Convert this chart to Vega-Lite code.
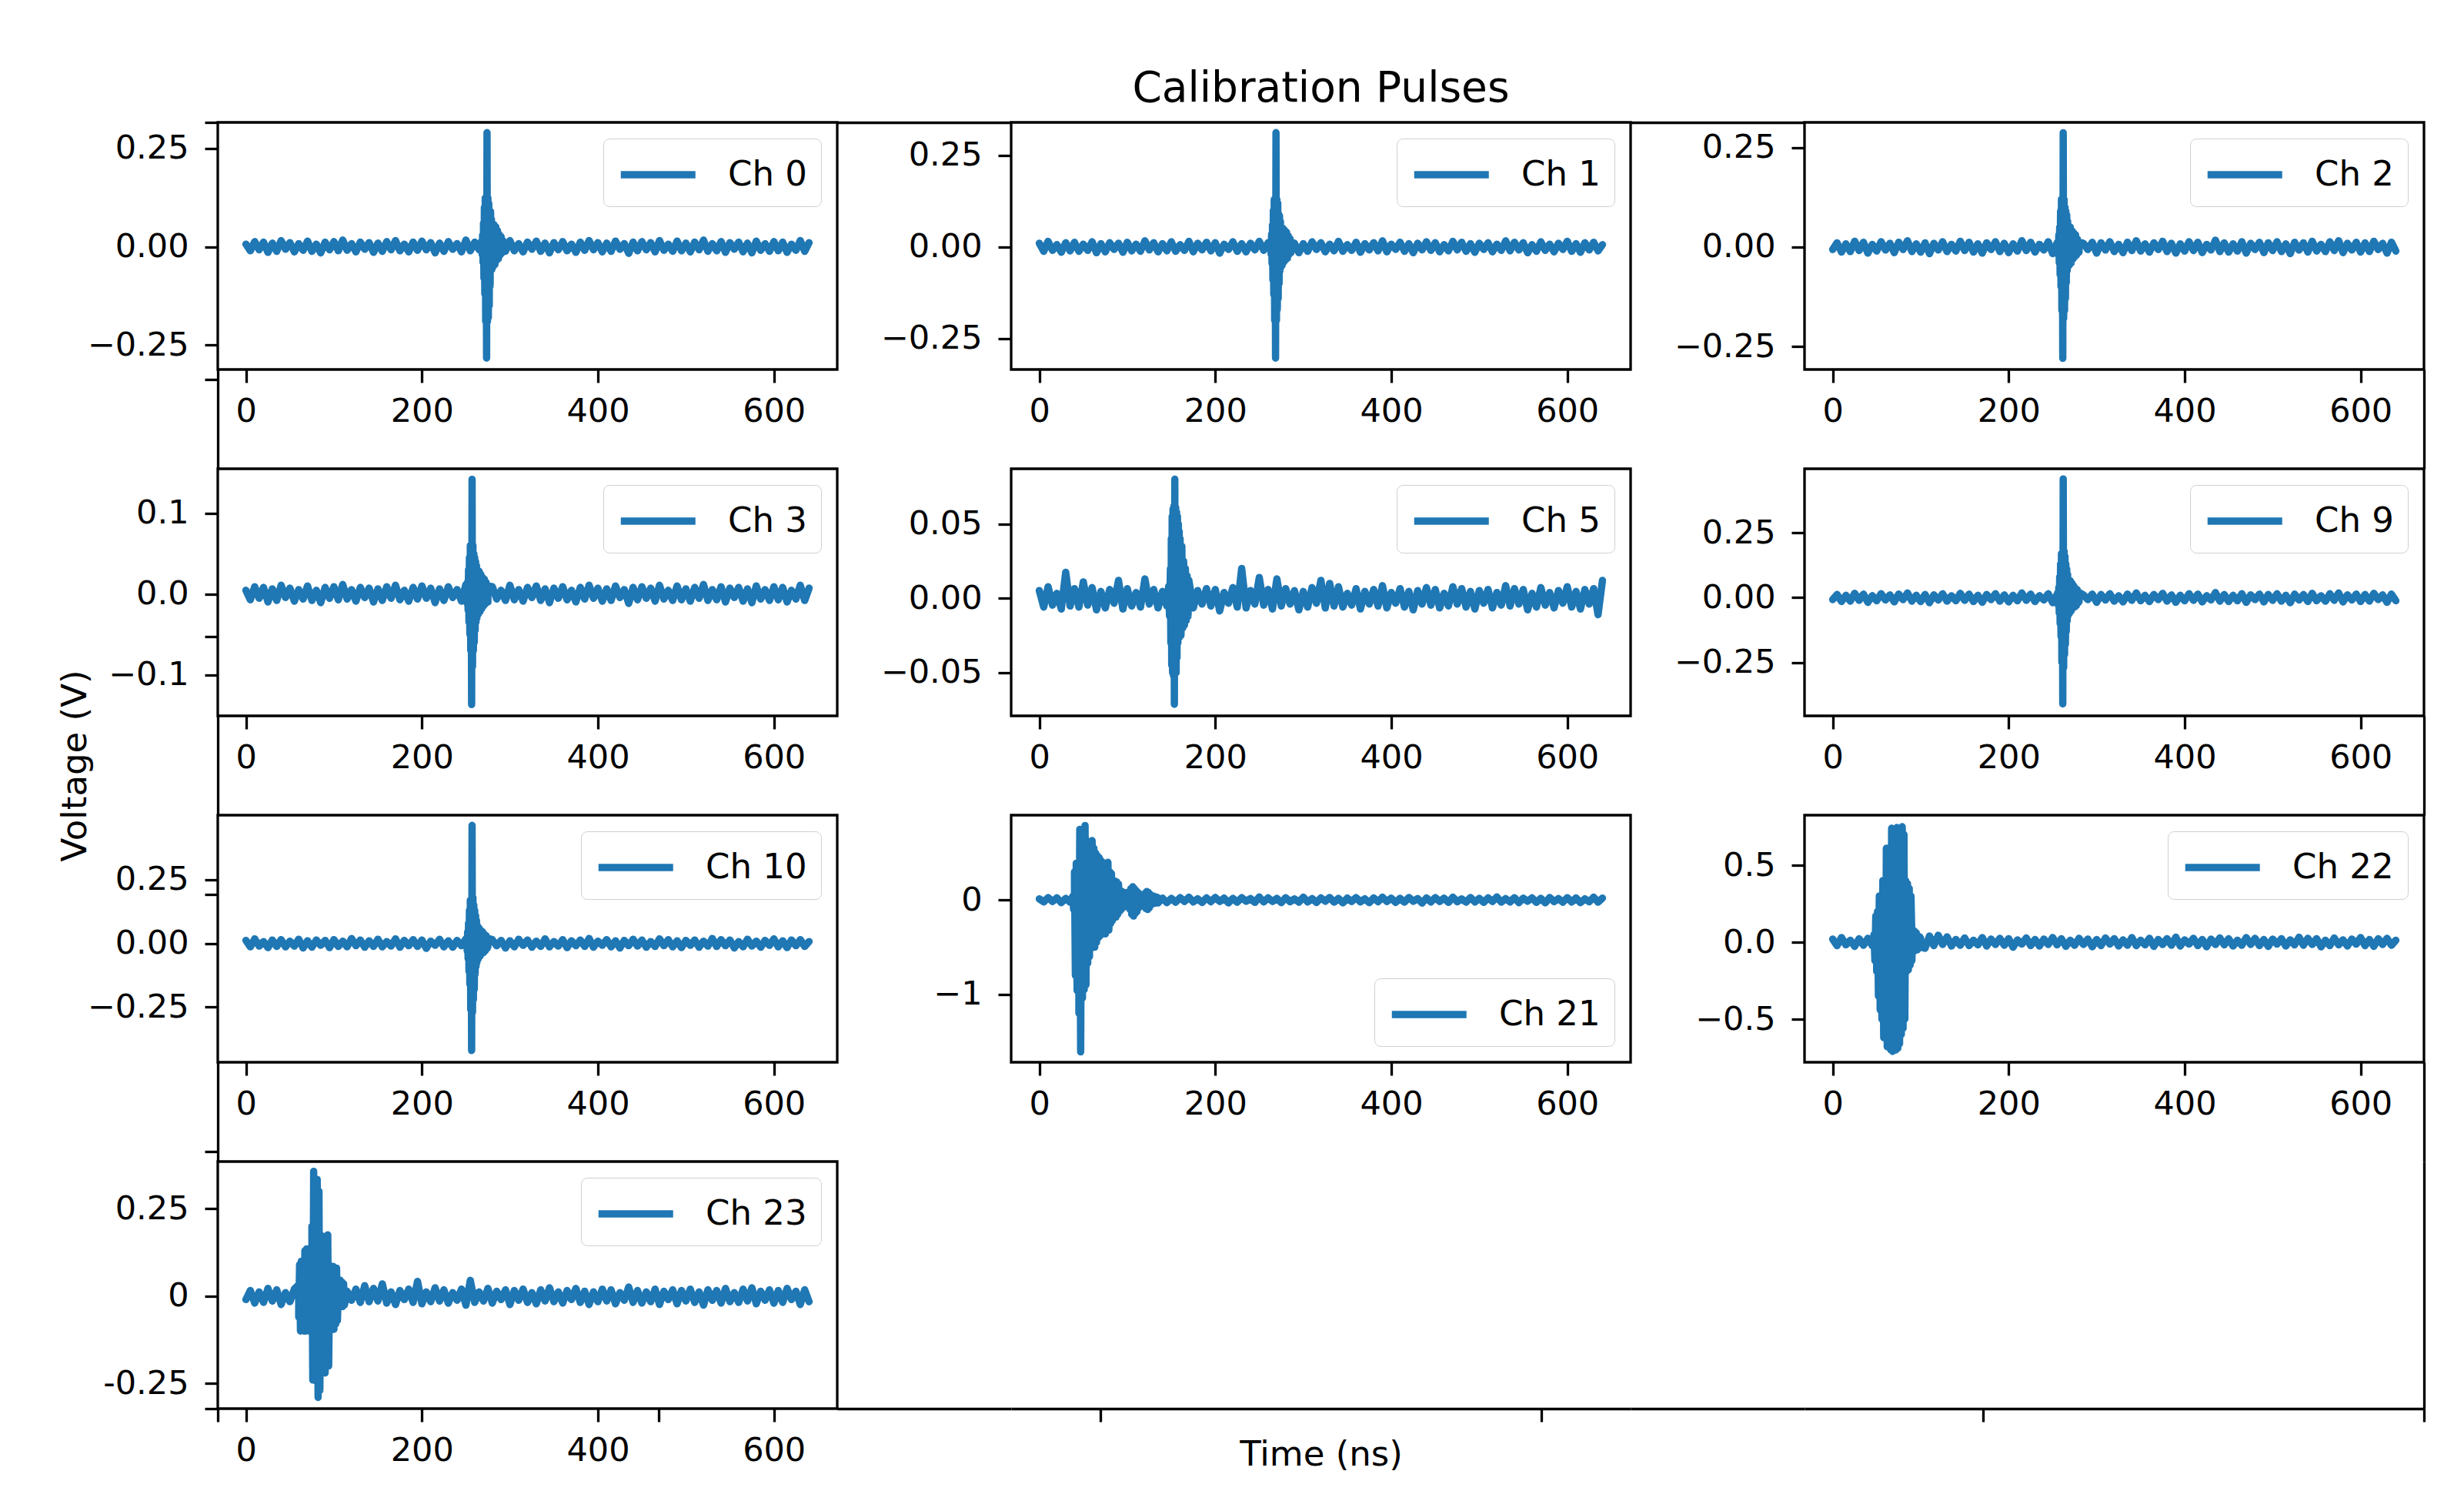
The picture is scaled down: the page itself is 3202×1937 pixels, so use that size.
{
"$schema":"https://vega.github.io/schema/vega-lite/v6.json",
"autosize":{"type":"none"},
"padding":{"left":283,"top":159,"right":2919,"bottom":1778},
"background":"white",
"config":{
"font":"DejaVu Sans",
"view":{"stroke":"black","strokeWidth":3.3},
"axis":{"domain":false,"grid":false,"ticks":true,"tickSize":17,"tickWidth":3.3,"tickColor":"black","labelFont":"DejaVu Sans","labelFontSize":43,"labelColor":"black","labelFlush":false,"labelOverlap":false,"titleFont":"DejaVu Sans","titleFontSize":45,"titleFontWeight":"normal","titleColor":"black","domainColor":"black","domainWidth":3.3},
"axisX":{"labelPadding":16},
"axisY":{"labelPadding":21},
"legend":{"offset":21,"padding":18,"labelFont":"DejaVu Sans","labelFontSize":45,"labelColor":"black","symbolType":"M-1,0H3","symbolSize":2352,"symbolStrokeWidth":7,"symbolStrokeColor":"#1f77b4","symbolFillColor":"transparent","labelOffset":86,"fillColor":"rgba(255,255,255,0.8)","strokeColor":"#d0d0d0","cornerRadius":8},
"line":{"strokeWidth":9.5,"strokeJoin":"round","strokeCap":"round"},
"title":{"font":"DejaVu Sans","fontSize":55,"fontWeight":"normal","color":"black"}
},
"data":{"name":"wave"},
"datasets":{"wave":[
{"ch":"Ch 0","t":[0,5,10,15,20,25,30,35,40,45,50,55,60,65,70,75,80,85,90,95,100,105,110,115,120,125,130,135,140,145,150,155,160,165,170,175,180,185,190,195,200,205,210,215,220,225,230,235,240,245,250,255,260,265,270,275,280,285,290,295,300,305,310,315,320,325,330,335,340,345,350,355,360,365,370,375,380,385,390,395,400,405,410,415,420,425,430,435,440,445,450,455,460,465,470,475,480,485,490,495,500,505,510,515,520,525,530,535,540,545,550,555,560,565,570,575,580,585,590,595,600,605,610,615,620,625,630,635,640],"v":[0.0065,-0.0104,0.013,-0.0078,0.0117,-0.0143,0.0091,-0.0117,0.0156,-0.0065,0.0104,-0.013,0.0078,-0.0091,0.0143,-0.0117,0.0065,-0.0156,0.0117,-0.0078,0.013,-0.0104,0.0169,-0.0091,0.0078,-0.013,0.0117,-0.0065,0.0104,-0.0143,0.0091,-0.0117,0.013,-0.0078,0.0156,-0.0104,0.0065,-0.013,0.0117,-0.0091,0.0143,-0.0078,0.0104,-0.0156,0.0091,-0.0117,0.013,-0.0065,0.0078,-0.013,0.0169,-0.0104,0.0117,-0.0078,0.0091,-0.0143,0.013,-0.0091,0.0065,-0.0117,0.0156,-0.0104,0.0078,-0.013,0.0117,-0.0065,0.0143,-0.0117,0.0091,-0.0156,0.0104,-0.0078,0.013,-0.0104,0.0065,-0.0143,0.0117,-0.0091,0.0156,-0.0078,0.0104,-0.013,0.0091,-0.0117,0.0143,-0.0065,0.0078,-0.0169,0.0117,-0.0104,0.013,-0.0078,0.0104,-0.013,0.0156,-0.0091,0.0065,-0.0117,0.0143,-0.0104,0.0091,-0.013,0.0117,-0.0078,0.0169,-0.0117,0.0078,-0.0104,0.013,-0.0143,0.0104,-0.0065,0.0117,-0.013,0.0091,-0.0156,0.0143,-0.0091,0.0078,-0.0117,0.013,-0.0104,0.0117,-0.0143,0.0065,-0.0091,0.0156,-0.0117,0.0104]},
{"ch":"Ch 0","t":[268,268.5,269,269.5,270,270.5,271,271.5,272,272.5,273,273.5,274,274.5,275,275.5,276,276.5,277,277.5,278,278.5,279,279.5,280,281,282,283,284,285,286,287,288,289,290,291,292],"v":[0.015,-0.02,0.03,-0.04,0.06,-0.08,0.1,-0.12,0.124,-0.19,0.12,-0.283,0.29,-0.19,0.124,-0.18,0.11,-0.15,0.093,-0.1,0.09,-0.06,0.07,-0.058,0.056,-0.05,0.056,-0.045,0.05,-0.035,0.04,-0.03,0.03,-0.02,0.025,-0.015,0.015]},
{"ch":"Ch 1","t":[0,5,10,15,20,25,30,35,40,45,50,55,60,65,70,75,80,85,90,95,100,105,110,115,120,125,130,135,140,145,150,155,160,165,170,175,180,185,190,195,200,205,210,215,220,225,230,235,240,245,250,255,260,265,270,275,280,285,290,295,300,305,310,315,320,325,330,335,340,345,350,355,360,365,370,375,380,385,390,395,400,405,410,415,420,425,430,435,440,445,450,455,460,465,470,475,480,485,490,495,500,505,510,515,520,525,530,535,540,545,550,555,560,565,570,575,580,585,590,595,600,605,610,615,620,625,630,635,640],"v":[0.0104,-0.0117,0.0156,-0.0091,0.0065,-0.0143,0.0117,-0.0104,0.013,-0.0117,0.0078,-0.0091,0.0143,-0.0156,0.0091,-0.013,0.0117,-0.0065,0.0104,-0.0143,0.013,-0.0104,0.0078,-0.0117,0.0169,-0.0078,0.0117,-0.013,0.0091,-0.0104,0.0143,-0.0117,0.0065,-0.0091,0.0156,-0.013,0.0104,-0.0078,0.013,-0.0104,0.0117,-0.0169,0.0078,-0.0065,0.0143,-0.0117,0.0091,-0.013,0.0104,-0.0078,0.0156,-0.0091,0.0117,-0.0143,0.0065,-0.0104,0.013,-0.0078,0.0104,-0.0156,0.0091,-0.0117,0.0143,-0.0065,0.0117,-0.013,0.0078,-0.0104,0.0156,-0.0117,0.0065,-0.0091,0.013,-0.0143,0.0091,-0.0078,0.0117,-0.0104,0.0169,-0.013,0.0078,-0.0065,0.013,-0.0117,0.0091,-0.0156,0.0104,-0.0078,0.0143,-0.0091,0.0117,-0.013,0.0065,-0.0104,0.0156,-0.0078,0.013,-0.0117,0.0091,-0.0143,0.0104,-0.0065,0.0117,-0.013,0.0078,-0.0091,0.0169,-0.0104,0.013,-0.0078,0.0117,-0.0156,0.0065,-0.0117,0.0143,-0.0091,0.0078,-0.013,0.0104,-0.0065,0.0156,-0.0117,0.0091,-0.0143,0.0117,-0.0078,0.013,-0.0104,0.0065]},
{"ch":"Ch 1","t":[263,263.5,264,264.5,265,265.5,266,266.5,267,267.5,268,268.5,269,269.5,270,270.5,271,271.5,272,272.5,273,273.5,274,274.5,275,276,277,278,279,280,281,282,283,284,285,286,287],"v":[0.015,-0.02,0.035,-0.045,0.06,-0.09,0.1,-0.13,0.13,-0.2,0.13,-0.303,0.312,-0.2,0.13,-0.17,0.12,-0.14,0.09,-0.1,0.085,-0.065,0.07,-0.055,0.05,-0.05,0.05,-0.04,0.045,-0.035,0.04,-0.03,0.03,-0.02,0.022,-0.015,0.012]},
{"ch":"Ch 2","t":[0,5,10,15,20,25,30,35,40,45,50,55,60,65,70,75,80,85,90,95,100,105,110,115,120,125,130,135,140,145,150,155,160,165,170,175,180,185,190,195,200,205,210,215,220,225,230,235,240,245,250,255,260,265,270,275,280,285,290,295,300,305,310,315,320,325,330,335,340,345,350,355,360,365,370,375,380,385,390,395,400,405,410,415,420,425,430,435,440,445,450,455,460,465,470,475,480,485,490,495,500,505,510,515,520,525,530,535,540,545,550,555,560,565,570,575,580,585,590,595,600,605,610,615,620,625,630,635,640],"v":[-0.0065,0.0104,-0.013,0.0078,-0.0117,0.0143,-0.0091,0.0117,-0.0156,0.0065,-0.0104,0.013,-0.0078,0.0091,-0.0143,0.0117,-0.0065,0.0156,-0.0117,0.0078,-0.013,0.0104,-0.0169,0.0091,-0.0078,0.013,-0.0117,0.0065,-0.0104,0.0143,-0.0091,0.0117,-0.013,0.0078,-0.0156,0.0104,-0.0065,0.013,-0.0117,0.0091,-0.0143,0.0078,-0.0104,0.0156,-0.0091,0.0117,-0.013,0.0065,-0.0078,0.013,-0.0169,0.0104,-0.0117,0.0078,-0.0091,0.0143,-0.013,0.0091,-0.0065,0.0117,-0.0156,0.0104,-0.0078,0.013,-0.0117,0.0065,-0.0143,0.0117,-0.0091,0.0156,-0.0104,0.0078,-0.013,0.0104,-0.0065,0.0143,-0.0117,0.0091,-0.0156,0.0078,-0.0104,0.013,-0.0091,0.0117,-0.0143,0.0065,-0.0078,0.0169,-0.0117,0.0104,-0.013,0.0078,-0.0104,0.013,-0.0156,0.0091,-0.0065,0.0117,-0.0143,0.0104,-0.0091,0.013,-0.0117,0.0078,-0.0169,0.0117,-0.0078,0.0104,-0.013,0.0143,-0.0104,0.0065,-0.0117,0.013,-0.0091,0.0156,-0.0143,0.0091,-0.0078,0.0117,-0.013,0.0104,-0.0117,0.0143,-0.0065,0.0091,-0.0156,0.0117,-0.0104]},
{"ch":"Ch 2","t":[256,256.5,257,257.5,258,258.5,259,259.5,260,260.5,261,261.5,262,262.5,263,263.5,264,264.5,265,265.5,266,266.5,267,267.5,268,269,270,271,272,273,274,275,276,277,278,279,280],"v":[0.012,-0.02,0.03,-0.04,0.05,-0.07,0.09,-0.1,0.12,-0.16,0.11,-0.28,0.287,-0.18,0.12,-0.16,0.1,-0.13,0.09,-0.09,0.08,-0.06,0.065,-0.05,0.05,-0.045,0.05,-0.04,0.04,-0.03,0.035,-0.025,0.03,-0.02,0.02,-0.015,0.012]},
{"ch":"Ch 3","t":[0,5,10,15,20,25,30,35,40,45,50,55,60,65,70,75,80,85,90,95,100,105,110,115,120,125,130,135,140,145,150,155,160,165,170,175,180,185,190,195,200,205,210,215,220,225,230,235,240,245,250,255,260,265,270,275,280,285,290,295,300,305,310,315,320,325,330,335,340,345,350,355,360,365,370,375,380,385,390,395,400,405,410,415,420,425,430,435,440,445,450,455,460,465,470,475,480,485,490,495,500,505,510,515,520,525,530,535,540,545,550,555,560,565,570,575,580,585,590,595,600,605,610,615,620,625,630,635,640],"v":[0.0045,-0.0072,0.009,-0.0054,0.0081,-0.0099,0.0063,-0.0081,0.0108,-0.0045,0.0072,-0.009,0.0054,-0.0063,0.0099,-0.0081,0.0045,-0.0108,0.0081,-0.0054,0.009,-0.0072,0.0117,-0.0063,0.0054,-0.009,0.0081,-0.0045,0.0072,-0.0099,0.0063,-0.0081,0.009,-0.0054,0.0108,-0.0072,0.0045,-0.009,0.0081,-0.0063,0.0099,-0.0054,0.0072,-0.0108,0.0063,-0.0081,0.009,-0.0045,0.0054,-0.009,0.0117,-0.0072,0.0081,-0.0054,0.0063,-0.0099,0.009,-0.0063,0.0045,-0.0081,0.0108,-0.0072,0.0054,-0.009,0.0081,-0.0045,0.0099,-0.0081,0.0063,-0.0108,0.0072,-0.0054,0.009,-0.0072,0.0045,-0.0099,0.0081,-0.0063,0.0108,-0.0054,0.0072,-0.009,0.0063,-0.0081,0.0099,-0.0045,0.0054,-0.0117,0.0081,-0.0072,0.009,-0.0054,0.0072,-0.009,0.0108,-0.0063,0.0045,-0.0081,0.0099,-0.0072,0.0063,-0.009,0.0081,-0.0054,0.0117,-0.0081,0.0054,-0.0072,0.009,-0.0099,0.0072,-0.0045,0.0081,-0.009,0.0063,-0.0108,0.0099,-0.0063,0.0054,-0.0081,0.009,-0.0072,0.0081,-0.0099,0.0045,-0.0063,0.0108,-0.0081,0.0072]},
{"ch":"Ch 3","t":[251,251.5,252,252.5,253,253.5,254,254.5,255,255.5,256,256.5,257,257.5,258,258.5,259,259.5,260,260.5,261,261.5,262,262.5,263,264,265,266,267,268,269,270,271,272,273,274,275],"v":[0.01,-0.012,0.015,-0.02,0.03,-0.035,0.045,-0.05,0.06,-0.07,0.05,-0.137,0.142,-0.09,0.06,-0.07,0.05,-0.06,0.045,-0.045,0.04,-0.035,0.035,-0.03,0.03,-0.025,0.028,-0.022,0.024,-0.018,0.02,-0.015,0.018,-0.012,0.014,-0.01,0.01]},
{"ch":"Ch 5","t":[0,5,10,15,20,25,30,35,40,45,50,55,60,65,70,75,80,85,90,95,100,105,110,115,120,125,130,135,140,145,150,155,160,165,170,175,180,185,190,195,200,205,210,215,220,225,230,235,240,245,250,255,260,265,270,275,280,285,290,295,300,305,310,315,320,325,330,335,340,345,350,355,360,365,370,375,380,385,390,395,400,405,410,415,420,425,430,435,440,445,450,455,460,465,470,475,480,485,490,495,500,505,510,515,520,525,530,535,540,545,550,555,560,565,570,575,580,585,590,595,600,605,610,615,620,625,630,635,640],"v":[0.0052,-0.0059,0.0078,-0.0046,0.0033,-0.0072,0.0175,-0.0052,0.0065,-0.0059,0.011,-0.0046,0.0072,-0.0078,0.0046,-0.0065,0.0059,-0.0033,0.012,-0.0072,0.0065,-0.0052,0.0039,-0.0059,0.013,-0.0039,0.0059,-0.0065,0.0046,-0.0052,0.0072,-0.0059,0.0033,-0.0046,0.0078,-0.0065,0.0052,-0.0039,0.0065,-0.0052,0.0059,-0.0085,0.0039,-0.0033,0.0072,-0.0059,0.02,-0.0065,0.0052,-0.0039,0.014,-0.0046,0.0059,-0.0072,0.013,-0.0052,0.0065,-0.0039,0.0052,-0.0078,0.0046,-0.0059,0.0072,-0.0033,0.012,-0.0065,0.01,-0.0052,0.0078,-0.0059,0.0033,-0.0046,0.0065,-0.0072,0.0046,-0.0039,0.0059,-0.0052,0.0085,-0.0065,0.0039,-0.0033,0.0065,-0.0059,0.0046,-0.0078,0.0052,-0.0039,0.0072,-0.0046,0.0059,-0.0065,0.0033,-0.0052,0.0078,-0.0039,0.0065,-0.0059,0.0046,-0.0072,0.0052,-0.0033,0.0059,-0.0065,0.0039,-0.0046,0.0085,-0.0052,0.0065,-0.0039,0.0059,-0.0078,0.0033,-0.0059,0.0072,-0.0046,0.0039,-0.0065,0.0052,-0.0033,0.0078,-0.0059,0.0046,-0.0072,0.0059,-0.0039,0.0065,-0.011,0.012]},
{"ch":"Ch 5","t":[147,148,149,149.5,150,150.5,151,151.5,152,152.5,153,153.5,154,154.5,155,155.5,156,156.5,157,157.5,158,158.5,159,159.5,160,161,162,163,164,165,166,167,168,169,170],"v":[0.008,-0.012,0.02,-0.03,0.04,-0.045,0.055,-0.05,0.06,-0.052,0.062,-0.0712,0.08,-0.05,0.061,-0.05,0.058,-0.04,0.055,-0.03,0.05,-0.026,0.045,-0.026,0.04,-0.025,0.035,-0.02,0.025,-0.018,0.02,-0.015,0.015,-0.012,0.012]},
{"ch":"Ch 9","t":[0,5,10,15,20,25,30,35,40,45,50,55,60,65,70,75,80,85,90,95,100,105,110,115,120,125,130,135,140,145,150,155,160,165,170,175,180,185,190,195,200,205,210,215,220,225,230,235,240,245,250,255,260,265,270,275,280,285,290,295,300,305,310,315,320,325,330,335,340,345,350,355,360,365,370,375,380,385,390,395,400,405,410,415,420,425,430,435,440,445,450,455,460,465,470,475,480,485,490,495,500,505,510,515,520,525,530,535,540,545,550,555,560,565,570,575,580,585,590,595,600,605,610,615,620,625,630,635,640],"v":[-0.0075,0.012,-0.015,0.009,-0.0135,0.0165,-0.0105,0.0135,-0.018,0.0075,-0.012,0.015,-0.009,0.0105,-0.0165,0.0135,-0.0075,0.018,-0.0135,0.009,-0.015,0.012,-0.0195,0.0105,-0.009,0.015,-0.0135,0.0075,-0.012,0.0165,-0.0105,0.0135,-0.015,0.009,-0.018,0.012,-0.0075,0.015,-0.0135,0.0105,-0.0165,0.009,-0.012,0.018,-0.0105,0.0135,-0.015,0.0075,-0.009,0.015,-0.0195,0.012,-0.0135,0.009,-0.0105,0.0165,-0.015,0.0105,-0.0075,0.0135,-0.018,0.012,-0.009,0.015,-0.0135,0.0075,-0.0165,0.0135,-0.0105,0.018,-0.012,0.009,-0.015,0.012,-0.0075,0.0165,-0.0135,0.0105,-0.018,0.009,-0.012,0.015,-0.0105,0.0135,-0.0165,0.0075,-0.009,0.0195,-0.0135,0.012,-0.015,0.009,-0.012,0.015,-0.018,0.0105,-0.0075,0.0135,-0.0165,0.012,-0.0105,0.015,-0.0135,0.009,-0.0195,0.0135,-0.009,0.012,-0.015,0.0165,-0.012,0.0075,-0.0135,0.015,-0.0105,0.018,-0.0165,0.0105,-0.009,0.0135,-0.015,0.012,-0.0135,0.0165,-0.0075,0.0105,-0.018,0.0135,-0.012]},
{"ch":"Ch 9","t":[256,256.5,257,257.5,258,258.5,259,259.5,260,260.5,261,261.5,262,262.5,263,263.5,264,264.5,265,265.5,266,266.5,267,267.5,268,269,270,271,272,273,274,275,276,277,278,279,280],"v":[0.02,-0.03,0.04,-0.06,0.08,-0.1,0.13,-0.15,0.17,-0.25,0.17,-0.41,0.458,-0.27,0.18,-0.22,0.16,-0.18,0.13,-0.13,0.11,-0.09,0.09,-0.07,0.07,-0.06,0.065,-0.05,0.055,-0.04,0.045,-0.035,0.035,-0.03,0.03,-0.02,0.02]},
{"ch":"Ch 10","t":[0,5,10,15,20,25,30,35,40,45,50,55,60,65,70,75,80,85,90,95,100,105,110,115,120,125,130,135,140,145,150,155,160,165,170,175,180,185,190,195,200,205,210,215,220,225,230,235,240,245,250,255,260,265,270,275,280,285,290,295,300,305,310,315,320,325,330,335,340,345,350,355,360,365,370,375,380,385,390,395,400,405,410,415,420,425,430,435,440,445,450,455,460,465,470,475,480,485,490,495,500,505,510,515,520,525,530,535,540,545,550,555,560,565,570,575,580,585,590,595,600,605,610,615,620,625,630,635,640],"v":[0.012,-0.0135,0.018,-0.0105,0.0075,-0.0165,0.0135,-0.012,0.015,-0.0135,0.009,-0.0105,0.0165,-0.018,0.0105,-0.015,0.0135,-0.0075,0.012,-0.0165,0.015,-0.012,0.009,-0.0135,0.0195,-0.009,0.0135,-0.015,0.0105,-0.012,0.0165,-0.0135,0.0075,-0.0105,0.018,-0.015,0.012,-0.009,0.015,-0.012,0.0135,-0.0195,0.009,-0.0075,0.0165,-0.0135,0.0105,-0.015,0.012,-0.009,0.018,-0.0105,0.0135,-0.0165,0.0075,-0.012,0.015,-0.009,0.012,-0.018,0.0105,-0.0135,0.0165,-0.0075,0.0135,-0.015,0.009,-0.012,0.018,-0.0135,0.0075,-0.0105,0.015,-0.0165,0.0105,-0.009,0.0135,-0.012,0.0195,-0.015,0.009,-0.0075,0.015,-0.0135,0.0105,-0.018,0.012,-0.009,0.0165,-0.0105,0.0135,-0.015,0.0075,-0.012,0.018,-0.009,0.015,-0.0135,0.0105,-0.0165,0.012,-0.0075,0.0135,-0.015,0.009,-0.0105,0.0195,-0.012,0.015,-0.009,0.0135,-0.018,0.0075,-0.0135,0.0165,-0.0105,0.009,-0.015,0.012,-0.0075,0.018,-0.0135,0.0105,-0.0165,0.0135,-0.009,0.015,-0.012,0.0075]},
{"ch":"Ch 10","t":[251,251.5,252,252.5,253,253.5,254,254.5,255,255.5,256,256.5,257,257.5,258,258.5,259,259.5,260,260.5,261,261.5,262,262.5,263,264,265,266,267,268,269,270,271,272,273,274,275],"v":[0.02,-0.03,0.045,-0.06,0.08,-0.11,0.13,-0.16,0.17,-0.26,0.17,-0.42,0.463,-0.27,0.18,-0.22,0.15,-0.18,0.13,-0.12,0.11,-0.09,0.09,-0.075,0.07,-0.06,0.06,-0.05,0.05,-0.04,0.045,-0.035,0.035,-0.028,0.03,-0.02,0.02]},
{"ch":"Ch 21","t":[0,5,10,15,20,25,30,35,40,45,50,55,60,65,70,75,80,85,90,95,100,105,110,115,120,125,130,135,140,145,150,155,160,165,170,175,180,185,190,195,200,205,210,215,220,225,230,235,240,245,250,255,260,265,270,275,280,285,290,295,300,305,310,315,320,325,330,335,340,345,350,355,360,365,370,375,380,385,390,395,400,405,410,415,420,425,430,435,440,445,450,455,460,465,470,475,480,485,490,495,500,505,510,515,520,525,530,535,540,545,550,555,560,565,570,575,580,585,590,595,600,605,610,615,620,625,630,635,640],"v":[0.0125,-0.02,0.025,-0.015,0.0225,-0.0275,0.0175,-0.0225,0.03,-0.0125,0.02,-0.025,0.015,-0.0175,0.0275,-0.0225,0.0125,-0.03,0.0225,-0.015,0.025,-0.02,0.0325,-0.0175,0.015,-0.025,0.0225,-0.0125,0.02,-0.0275,0.0175,-0.0225,0.025,-0.015,0.03,-0.02,0.0125,-0.025,0.0225,-0.0175,0.0275,-0.015,0.02,-0.03,0.0175,-0.0225,0.025,-0.0125,0.015,-0.025,0.0325,-0.02,0.0225,-0.015,0.0175,-0.0275,0.025,-0.0175,0.0125,-0.0225,0.03,-0.02,0.015,-0.025,0.0225,-0.0125,0.0275,-0.0225,0.0175,-0.03,0.02,-0.015,0.025,-0.02,0.0125,-0.0275,0.0225,-0.0175,0.03,-0.015,0.02,-0.025,0.0175,-0.0225,0.0275,-0.0125,0.015,-0.0325,0.0225,-0.02,0.025,-0.015,0.02,-0.025,0.03,-0.0175,0.0125,-0.0225,0.0275,-0.02,0.0175,-0.025,0.0225,-0.015,0.0325,-0.0225,0.015,-0.02,0.025,-0.0275,0.02,-0.0125,0.0225,-0.025,0.0175,-0.03,0.0275,-0.0175,0.015,-0.0225,0.025,-0.02,0.0225,-0.0275,0.0125,-0.0175,0.03,-0.0225,0.02]},
{"ch":"Ch 21","t":[38,39,40,41,42,43,44,45,46,47,48,49,50,51,52,53,54,55,56,57,58,59,60,61,62,63,64,65,66,67,68,69,70,71,72,73,74,75,76,77,78,79,80,81,82,83,84,85,86,87,88,89,90,91,92,93,94,95,96,97,98,99,100,101,102,103,104,105,106,107,108,109,110,111,112,113,114,115,116,117,118,119,120,121,122,123,124,125,126,127,128,129,130,131,132,133,134,135],"v":[0.04,-0.1,0.3,-0.8,0.39,-0.96,0.35,-1.2,0.75,-1.61,0.6,-1.04,0.7,-0.95,0.79,-0.9,0.63,-0.67,0.6,-0.6,0.55,-0.51,0.63,-0.48,0.55,-0.5,0.5,-0.45,0.47,-0.4,0.45,-0.38,0.42,-0.36,0.4,-0.33,0.38,-0.36,0.35,-0.3,0.4,-0.32,0.3,-0.25,0.28,-0.22,0.21,-0.19,0.2,-0.18,0.19,-0.15,0.17,-0.12,0.1,-0.1,0.09,-0.08,0.08,-0.07,0.07,-0.06,0.08,-0.07,0.09,-0.1,0.12,-0.15,0.14,-0.17,0.12,-0.14,0.1,-0.12,0.08,-0.08,0.06,-0.06,0.05,-0.05,0.06,-0.05,0.07,-0.09,0.09,-0.1,0.08,-0.08,0.06,-0.05,0.04,-0.04,0.04,-0.035,0.03,-0.03,0.03,-0.03]},
{"ch":"Ch 22","t":[0,5,10,15,20,25,30,35,40,45,50,55,60,65,70,75,80,85,90,95,100,105,110,115,120,125,130,135,140,145,150,155,160,165,170,175,180,185,190,195,200,205,210,215,220,225,230,235,240,245,250,255,260,265,270,275,280,285,290,295,300,305,310,315,320,325,330,335,340,345,350,355,360,365,370,375,380,385,390,395,400,405,410,415,420,425,430,435,440,445,450,455,460,465,470,475,480,485,490,495,500,505,510,515,520,525,530,535,540,545,550,555,560,565,570,575,580,585,590,595,600,605,610,615,620,625,630,635,640],"v":[0.02,-0.0225,0.03,-0.0175,0.0125,-0.0275,0.0225,-0.02,0.025,-0.0225,0.015,-0.0175,0.0275,-0.03,0.0175,-0.025,0.0225,-0.0125,0.02,-0.0275,0.025,-0.04,0.04,-0.0225,0.045,-0.015,0.035,-0.025,0.0175,-0.02,0.0275,-0.0225,0.0125,-0.0175,0.03,-0.025,0.02,-0.015,0.025,-0.02,0.0225,-0.0325,0.015,-0.0125,0.0275,-0.0225,0.0175,-0.025,0.02,-0.015,0.03,-0.0175,0.0225,-0.0275,0.0125,-0.02,0.025,-0.015,0.02,-0.03,0.0175,-0.0225,0.0275,-0.0125,0.0225,-0.025,0.015,-0.02,0.03,-0.0225,0.0125,-0.0175,0.025,-0.0275,0.0175,-0.015,0.0225,-0.02,0.0325,-0.025,0.015,-0.0125,0.025,-0.0225,0.0175,-0.03,0.02,-0.015,0.0275,-0.0175,0.0225,-0.025,0.0125,-0.02,0.03,-0.015,0.025,-0.0225,0.0175,-0.0275,0.02,-0.0125,0.0225,-0.025,0.015,-0.0175,0.0325,-0.02,0.025,-0.015,0.0225,-0.03,0.0125,-0.0225,0.0275,-0.0175,0.015,-0.025,0.02,-0.0125,0.03,-0.0225,0.0175,-0.0275,0.0225,-0.015,0.025,-0.02,0.0125]},
{"ch":"Ch 22","t":[47,48,49,50,51,52,53,54,55,56,57,58,59,60,61,62,63,64,65,66,67,68,69,70,71,72,73,74,75,76,77,78,79,80,81,82,83,84,85,86,87,88,89,90,91,92,93,94,95,96,97,98,99,100],"v":[0.05,-0.12,0.17,-0.19,0.2,-0.35,0.3,-0.44,0.28,-0.5,0.4,-0.62,0.38,-0.6,0.61,-0.68,0.55,-0.65,0.6,-0.7,0.74,-0.71,0.7,-0.68,0.72,-0.7,0.745,-0.69,0.72,-0.66,0.7,-0.6,0.75,-0.56,0.7,-0.5,0.4,-0.19,0.38,-0.18,0.35,-0.15,0.3,-0.12,0.08,-0.06,0.07,-0.05,0.06,-0.05,0.04,-0.04,0.035,-0.03]},
{"ch":"Ch 23","t":[0,5,10,15,20,25,30,35,40,45,50,55,60,65,70,75,80,85,90,95,100,105,110,115,120,125,130,135,140,145,150,155,160,165,170,175,180,185,190,195,200,205,210,215,220,225,230,235,240,245,250,255,260,265,270,275,280,285,290,295,300,305,310,315,320,325,330,335,340,345,350,355,360,365,370,375,380,385,390,395,400,405,410,415,420,425,430,435,440,445,450,455,460,465,470,475,480,485,490,495,500,505,510,515,520,525,530,535,540,545,550,555,560,565,570,575,580,585,590,595,600,605,610,615,620,625,630,635,640],"v":[-0.01,0.016,-0.02,0.012,-0.018,0.022,-0.014,0.018,-0.024,0.01,-0.016,0.02,-0.012,0.014,-0.022,0.018,-0.01,0.024,-0.018,0.012,-0.02,0.016,-0.026,0.014,-0.012,0.02,-0.018,0.03,-0.016,0.022,-0.014,0.035,-0.02,0.012,-0.024,0.016,-0.01,0.02,-0.018,0.042,-0.022,0.012,-0.016,0.024,-0.014,0.018,-0.02,0.01,-0.012,0.02,-0.026,0.045,-0.018,0.012,-0.014,0.022,-0.02,0.014,-0.01,0.018,-0.024,0.016,-0.012,0.02,-0.018,0.01,-0.022,0.018,-0.014,0.024,-0.016,0.012,-0.02,0.016,-0.01,0.022,-0.018,0.014,-0.024,0.012,-0.016,0.02,-0.014,0.018,-0.022,0.01,-0.012,0.026,-0.018,0.016,-0.02,0.012,-0.016,0.02,-0.024,0.014,-0.01,0.018,-0.022,0.016,-0.014,0.02,-0.018,0.012,-0.026,0.018,-0.012,0.016,-0.02,0.022,-0.016,0.01,-0.018,0.02,-0.014,0.024,-0.022,0.014,-0.012,0.018,-0.02,0.016,-0.018,0.022,-0.01,0.014,-0.024,0.018,-0.016]},
{"ch":"Ch 23","t":[59,60,61,62,63,64,65,66,67,68,69,70,71,72,73,74,75,76,77,78,79,80,81,82,83,84,85,86,87,88,89,90,91,92,93,94,95,96,97,98,99,100,101,102,103,104,105,106,107,108,109,110,111,112],"v":[0.03,-0.06,0.09,-0.1,0.1,-0.09,0.1,-0.1,0.13,-0.1,0.135,-0.09,0.12,-0.1,0.13,-0.08,0.2,-0.24,0.357,-0.2,0.3,-0.244,0.334,-0.29,0.3,-0.27,0.175,-0.22,0.16,-0.2,0.17,-0.22,0.15,-0.18,0.175,-0.2,0.088,-0.098,0.08,-0.09,0.085,-0.095,0.07,-0.08,0.08,-0.07,0.048,-0.03,0.045,-0.03,0.04,-0.03,0.035,-0.025]}
]},
"columns":5,
"spacing":0,
"bounds":"flush",
"align":"each",
"resolve":{"scale":{"color":"independent"},"legend":{"color":"independent"}},
"concat":[
{"width":805,"height":321,"transform":[{"filter":"datum.ch === 'Ch 0'"},{"flatten":["t","v"]}],"mark":{"type":"line"},
"encoding":{"x":{"field":"t","type":"quantitative","title":null,"scale":{"domain":[-32,672],"nice":false,"zero":false},"axis":{"values":[0,200,400,600],"format":"d"}},
"y":{"field":"v","type":"quantitative","title":null,"scale":{"domain":[-0.312,0.316],"nice":false,"zero":false},"axis":{"values":[-0.25,0,0.25,0.316],"format":".2f","labelExpr":"datum.value > 0.3 ? '' : datum.label"}},
"color":{"field":"ch","type":"nominal","title":null,"scale":{"range":["#1f77b4"]},"legend":{"orient":"top-right"}}}},
{"width":226,"height":321,"view":{"stroke":null},"data":{"values":[{"g":0.5}]},"mark":{"type":"point","opacity":0},
"encoding":{"x":{"field":"g","type":"quantitative","scale":{"domain":[0,1]},"axis":{"orient":"top","domain":true,"ticks":false,"labels":false,"title":null}}}},
{"width":805,"height":321,"title":{"text":"Calibration Pulses","anchor":"middle","frame":"group","offset":15},"transform":[{"filter":"datum.ch === 'Ch 1'"},{"flatten":["t","v"]}],"mark":{"type":"line"},
"encoding":{"x":{"field":"t","type":"quantitative","title":null,"scale":{"domain":[-32,672],"nice":false,"zero":false},"axis":{"values":[0,200,400,600],"format":"d"}},
"y":{"field":"v","type":"quantitative","title":null,"scale":{"domain":[-0.334,0.34],"nice":false,"zero":false},"axis":{"values":[-0.25,0,0.25],"format":".2f"}},
"color":{"field":"ch","type":"nominal","title":null,"scale":{"range":["#1f77b4"]},"legend":{"orient":"top-right"}}}},
{"width":226,"height":321,"view":{"stroke":null},"data":{"values":[{"g":0.5}]},"mark":{"type":"point","opacity":0},
"encoding":{"x":{"field":"g","type":"quantitative","scale":{"domain":[0,1]},"axis":{"orient":"top","domain":true,"ticks":false,"labels":false,"title":null}}}},
{"width":805,"height":321,"transform":[{"filter":"datum.ch === 'Ch 2'"},{"flatten":["t","v"]}],"mark":{"type":"line"},
"encoding":{"x":{"field":"t","type":"quantitative","title":null,"scale":{"domain":[-32,672],"nice":false,"zero":false},"axis":{"values":[0,200,400,600],"format":"d"}},
"y":{"field":"v","type":"quantitative","title":null,"scale":{"domain":[-0.308,0.313],"nice":false,"zero":false},"axis":{"values":[-0.25,0,0.25],"format":".2f"}},
"color":{"field":"ch","type":"nominal","title":null,"scale":{"range":["#1f77b4"]},"legend":{"orient":"top-right"}}}},

{"width":805,"height":129,"view":{"stroke":null},"data":{"values":[{"g":0.77}]},"mark":{"type":"point","opacity":0},
"encoding":{"y":{"field":"g","type":"quantitative","scale":{"domain":[0.7307,0.8079],"nice":false,"zero":false},"axis":{"orient":"left","values":[0.8],"labels":false,"domain":true,"title":null}}}},
{"width":226,"height":129,"view":{"stroke":null},"data":{"values":[{"g":0}]},"mark":{"type":"point","opacity":0},"encoding":{}},
{"width":805,"height":129,"view":{"stroke":null},"data":{"values":[{"g":0}]},"mark":{"type":"point","opacity":0},"encoding":{}},
{"width":226,"height":129,"view":{"stroke":null},"data":{"values":[{"g":0}]},"mark":{"type":"point","opacity":0},"encoding":{}},
{"width":805,"height":129,"view":{"stroke":null},"data":{"values":[{"g":0.77}]},"mark":{"type":"point","opacity":0},
"encoding":{"y":{"field":"g","type":"quantitative","scale":{"domain":[0.7307,0.8079],"nice":false,"zero":false},"axis":{"orient":"right","ticks":false,"labels":false,"domain":true,"title":null}}}},

{"width":805,"height":321,"transform":[{"filter":"datum.ch === 'Ch 3'"},{"flatten":["t","v"]}],"mark":{"type":"line"},
"encoding":{"x":{"field":"t","type":"quantitative","title":null,"scale":{"domain":[-32,672],"nice":false,"zero":false},"axis":{"values":[0,200,400,600],"format":"d"}},
"y":{"field":"v","type":"quantitative","title":null,"scale":{"domain":[-0.151,0.155],"nice":false,"zero":false},"axis":{"values":[-0.1,-0.0532,0,0.1],"format":".1f","labelExpr":"datum.value == -0.0532 ? '' : datum.label"}},
"color":{"field":"ch","type":"nominal","title":null,"scale":{"range":["#1f77b4"]},"legend":{"orient":"top-right"}}}},
{"width":226,"height":321,"view":{"stroke":null},"data":{"values":[{"g":0}]},"mark":{"type":"point","opacity":0},"encoding":{}},
{"width":805,"height":321,"transform":[{"filter":"datum.ch === 'Ch 5'"},{"flatten":["t","v"]}],"mark":{"type":"line"},
"encoding":{"x":{"field":"t","type":"quantitative","title":null,"scale":{"domain":[-32,672],"nice":false,"zero":false},"axis":{"values":[0,200,400,600],"format":"d"}},
"y":{"field":"v","type":"quantitative","title":null,"scale":{"domain":[-0.079,0.087],"nice":false,"zero":false},"axis":{"values":[-0.05,0,0.05],"format":".2f"}},
"color":{"field":"ch","type":"nominal","title":null,"scale":{"range":["#1f77b4"]},"legend":{"orient":"top-right"}}}},
{"width":226,"height":321,"view":{"stroke":null},"data":{"values":[{"g":0}]},"mark":{"type":"point","opacity":0},"encoding":{}},
{"width":805,"height":321,"transform":[{"filter":"datum.ch === 'Ch 9'"},{"flatten":["t","v"]}],"mark":{"type":"line"},
"encoding":{"x":{"field":"t","type":"quantitative","title":null,"scale":{"domain":[-32,672],"nice":false,"zero":false},"axis":{"values":[0,200,400,600],"format":"d"}},
"y":{"field":"v","type":"quantitative","title":null,"scale":{"domain":[-0.456,0.497],"nice":false,"zero":false},"axis":{"values":[-0.25,0,0.25],"format":".2f"}},
"color":{"field":"ch","type":"nominal","title":null,"scale":{"range":["#1f77b4"]},"legend":{"orient":"top-right"}}}},

{"width":805,"height":129,"view":{"stroke":null},"data":{"values":[{"g":0.5}]},"mark":{"type":"point","opacity":0},
"encoding":{"y":{"field":"g","type":"quantitative","scale":{"domain":[0.4614,0.5386],"nice":false,"zero":false},"axis":{"orient":"left","ticks":false,"labels":false,"domain":true,"title":"Voltage (V)","titlePadding":163}}}},
{"width":226,"height":129,"view":{"stroke":null},"data":{"values":[{"g":0}]},"mark":{"type":"point","opacity":0},"encoding":{}},
{"width":805,"height":129,"view":{"stroke":null},"data":{"values":[{"g":0}]},"mark":{"type":"point","opacity":0},"encoding":{}},
{"width":226,"height":129,"view":{"stroke":null},"data":{"values":[{"g":0}]},"mark":{"type":"point","opacity":0},"encoding":{}},
{"width":805,"height":129,"view":{"stroke":null},"data":{"values":[{"g":0.5}]},"mark":{"type":"point","opacity":0},
"encoding":{"y":{"field":"g","type":"quantitative","scale":{"domain":[0.4614,0.5386],"nice":false,"zero":false},"axis":{"orient":"right","ticks":false,"labels":false,"domain":true,"title":null}}}},

{"width":805,"height":321,"transform":[{"filter":"datum.ch === 'Ch 10'"},{"flatten":["t","v"]}],"mark":{"type":"line"},
"encoding":{"x":{"field":"t","type":"quantitative","title":null,"scale":{"domain":[-32,672],"nice":false,"zero":false},"axis":{"values":[0,200,400,600],"format":"d"}},
"y":{"field":"v","type":"quantitative","title":null,"scale":{"domain":[-0.466,0.503],"nice":false,"zero":false},"axis":{"values":[-0.25,0,0.1933,0.25],"format":".2f","labelExpr":"datum.value == 0.1933 ? '' : datum.label"}},
"color":{"field":"ch","type":"nominal","title":null,"scale":{"range":["#1f77b4"]},"legend":{"orient":"top-right"}}}},
{"width":226,"height":321,"view":{"stroke":null},"data":{"values":[{"g":0}]},"mark":{"type":"point","opacity":0},"encoding":{}},
{"width":805,"height":321,"transform":[{"filter":"datum.ch === 'Ch 21'"},{"flatten":["t","v"]}],"mark":{"type":"line"},
"encoding":{"x":{"field":"t","type":"quantitative","title":null,"scale":{"domain":[-32,672],"nice":false,"zero":false},"axis":{"values":[0,200,400,600],"format":"d"}},
"y":{"field":"v","type":"quantitative","title":null,"scale":{"domain":[-1.72,0.9],"nice":false,"zero":false},"axis":{"values":[-1,0],"format":"d"}},
"color":{"field":"ch","type":"nominal","title":null,"scale":{"range":["#1f77b4"]},"legend":{"orient":"bottom-right"}}}},
{"width":226,"height":321,"view":{"stroke":null},"data":{"values":[{"g":0}]},"mark":{"type":"point","opacity":0},"encoding":{}},
{"width":805,"height":321,"transform":[{"filter":"datum.ch === 'Ch 22'"},{"flatten":["t","v"]}],"mark":{"type":"line"},
"encoding":{"x":{"field":"t","type":"quantitative","title":null,"scale":{"domain":[-32,672],"nice":false,"zero":false},"axis":{"values":[0,200,400,600],"format":"d"}},
"y":{"field":"v","type":"quantitative","title":null,"scale":{"domain":[-0.78,0.825],"nice":false,"zero":false},"axis":{"values":[-0.5,0,0.5],"format":".1f"}},
"color":{"field":"ch","type":"nominal","title":null,"scale":{"range":["#1f77b4"]},"legend":{"orient":"top-right"}}}},

{"width":805,"height":129,"view":{"stroke":null},"data":{"values":[{"g":0.23}]},"mark":{"type":"point","opacity":0},
"encoding":{"y":{"field":"g","type":"quantitative","scale":{"domain":[0.1921,0.2693],"nice":false,"zero":false},"axis":{"orient":"left","values":[0.2],"labels":false,"domain":true,"title":null}}}},
{"width":226,"height":129,"view":{"stroke":null},"data":{"values":[{"g":0}]},"mark":{"type":"point","opacity":0},"encoding":{}},
{"width":805,"height":129,"view":{"stroke":null},"data":{"values":[{"g":0}]},"mark":{"type":"point","opacity":0},"encoding":{}},
{"width":226,"height":129,"view":{"stroke":null},"data":{"values":[{"g":0}]},"mark":{"type":"point","opacity":0},"encoding":{}},
{"width":805,"height":129,"view":{"stroke":null},"data":{"values":[{"g":0.23}]},"mark":{"type":"point","opacity":0},
"encoding":{"y":{"field":"g","type":"quantitative","scale":{"domain":[0.1921,0.2693],"nice":false,"zero":false},"axis":{"orient":"right","ticks":false,"labels":false,"domain":true,"title":null}}}},

{"width":805,"height":321,"transform":[{"filter":"datum.ch === 'Ch 23'"},{"flatten":["t","v"]}],"mark":{"type":"line"},
"encoding":{"x":{"field":"t","type":"quantitative","title":null,"scale":{"domain":[-32,672],"nice":false,"zero":false},"axis":{"values":[-32,0,200,400,469.5,600],"format":"d","labelExpr":"datum.value < 0 || datum.value == 469.5 ? '' : datum.label"}},
"y":{"field":"v","type":"quantitative","title":null,"scale":{"domain":[-0.322,0.385],"nice":false,"zero":false},"axis":{"values":[-0.322,-0.25,0,0.25],"labelExpr":"datum.value < -0.3 ? '' : (datum.value == 0 ? '0' : (datum.value < 0 ? '-' + format(-datum.value, '.2f') : format(datum.value, '.2f')))"}},
"color":{"field":"ch","type":"nominal","title":null,"scale":{"range":["#1f77b4"]},"legend":{"orient":"top-right"}}}},
{"width":226,"height":321,"view":{"stroke":null},"data":{"values":[{"g":0.3}]},"mark":{"type":"point","opacity":0},
"encoding":{"x":{"field":"g","type":"quantitative","scale":{"domain":[0.28078,0.35961],"nice":false,"zero":false},"axis":{"orient":"bottom","ticks":false,"labels":false,"domain":true,"title":null}}}},
{"width":805,"height":321,"view":{"stroke":null},"data":{"values":[{"g":0.5}]},"mark":{"type":"point","opacity":0},
"encoding":{"x":{"field":"g","type":"quantitative","scale":{"domain":[0.35961,0.64039],"nice":false,"zero":false},"axis":{"orient":"bottom","values":[0.4,0.6],"labels":false,"domain":true,"title":"Time (ns)","titlePadding":19}}}},
{"width":226,"height":321,"view":{"stroke":null},"data":{"values":[{"g":0.7}]},"mark":{"type":"point","opacity":0},
"encoding":{"x":{"field":"g","type":"quantitative","scale":{"domain":[0.64039,0.71922],"nice":false,"zero":false},"axis":{"orient":"bottom","ticks":false,"labels":false,"domain":true,"title":null}}}},
{"width":805,"height":321,"view":{"stroke":null},"data":{"values":[{"g":0.8}]},"mark":{"type":"point","opacity":0},
"encoding":{"x":{"field":"g","type":"quantitative","scale":{"domain":[0.71922,1],"nice":false,"zero":false},"axis":{"orient":"bottom","values":[0.8,1],"labels":false,"domain":true,"title":null}},
"y":{"field":"g","type":"quantitative","scale":{"domain":[0,1],"nice":false,"zero":false},"axis":{"orient":"right","ticks":false,"labels":false,"domain":true,"title":null}}}}
]
}
